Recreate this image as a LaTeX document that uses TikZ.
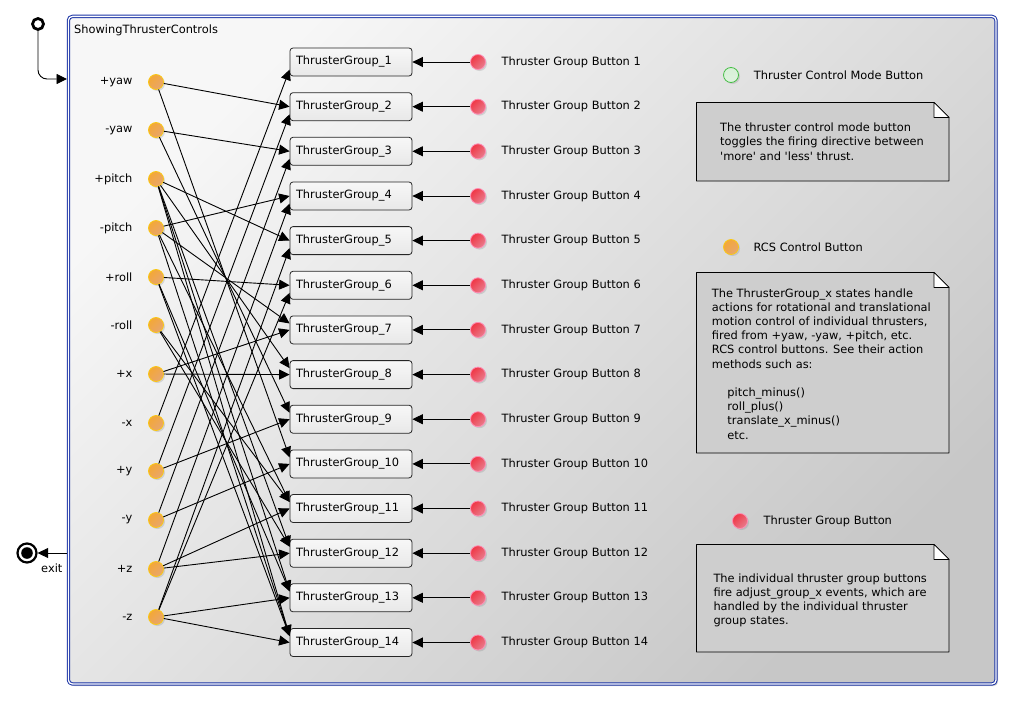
\documentclass[tikz,border=0pt]{standalone}
\usepackage{fontspec}
\setmainfont{DejaVu Sans}
\usetikzlibrary{arrows.meta,calc,positioning,shadows}

\definecolor{stateblue}{RGB}{25,50,165}
\definecolor{rcsfill}{RGB}{243,168,55}
\definecolor{rcsdark}{RGB}{232,165,110}
\definecolor{rcsline}{RGB}{250,200,20}
\definecolor{btnfill}{RGB}{240,55,70}
\definecolor{btndark}{RGB}{232,125,140}
\definecolor{btnline}{RGB}{255,140,180}
\definecolor{modefill}{RGB}{215,240,215}
\definecolor{modeline}{RGB}{70,190,70}
\definecolor{notegray}{RGB}{206,206,206}

\newcommand{\notebox}[4]{%
  \filldraw[notestyle] (#1,#2) -- (#3-15,#2) -- (#3,#2+15) -- (#3,#4) -- (#1,#4) -- cycle;
  \filldraw[fill=white,line width=0.7pt] (#3-15,#2) -- (#3-15,#2+15) -- (#3,#2+15) -- cycle;}

\begin{document}
\begin{tikzpicture}[x=1pt,y=-1pt,line join=round,
    every node/.style={font=\fontsize{11.4}{14.2}\selectfont}]
  \tikzset{statebox/.style={draw=stateblue,line width=1pt,double=white,double distance=1.3pt,
      rounded corners=4pt,minimum width=927.6pt,minimum height=667.6pt,inner sep=0pt,
      top color=black!3,bottom color=black!22,shading angle=45,
      drop shadow={shadow xshift=2pt,shadow yshift=-2pt,opacity=.35}},
    rcs/.style={circle,draw=rcsline,line width=0.8pt,top color=rcsfill,bottom color=rcsdark,
      shading angle=45,minimum size=15pt,inner sep=0pt,
      drop shadow={shadow xshift=1.5pt,shadow yshift=-1.5pt,opacity=.25}},
    tgbtn/.style={rcs,draw=btnline,top color=btnfill,bottom color=btndark,shading angle=45},
    modebtn/.style={rcs,draw=modeline,top color=modefill,bottom color=modefill!80!white},
    tgbox/.style={rectangle,rounded corners=3pt,draw=black!85,line width=0.8pt,
      top color=black!3,bottom color=black!9,
      minimum height=28pt,text width=110pt,inner xsep=6pt,align=left},
    initst/.style={circle,draw=black,line width=2.8pt,fill=white,minimum size=11pt,inner sep=0pt},
    finalst/.style={circle,draw=black,line width=2.2pt,fill=white,minimum size=19pt,inner sep=0pt,
      path picture={\fill[black] (path picture bounding box.center) circle (5.8pt);}},
    trans/.style={-{Triangle[length=10.5pt,width=10pt]},line width=0.9pt},
    lbl/.style={inner sep=0pt},
    notestyle/.style={fill=notegray,draw=black,line width=0.8pt}}

  \useasboundingbox (0,0) rectangle (1014,701);

  \node[statebox] (showing) at (532.2,350.2) {};
  \node[lbl,anchor=west] (title) at (74,30) {ShowingThrusterControls};

  \node[initst] (init) at (38,24) {};
  \coordinate (entry) at (67,79);
  \draw[trans,rounded corners=9pt] (init) |- (entry);

  \node[finalst] (exit) at (27,553) {};
  \node[lbl,anchor=west] (exitlbl) at (41,568) {exit};
  \coordinate (exitsrc) at (67,553);
  \draw[trans] (exitsrc) -- (exit);

  \node[rcs] (yawp) at (156,82) {};
  \node[rcs] (yawm) at (156,130) {};
  \node[rcs] (pitchp) at (156,179) {};
  \node[rcs] (pitchm) at (156,228) {};
  \node[rcs] (rollp) at (156,277) {};
  \node[rcs] (rollm) at (156,325) {};
  \node[rcs] (xp) at (156,374) {};
  \node[rcs] (xm) at (156,423) {};
  \node[rcs] (yp) at (156,471) {};
  \node[rcs] (ym) at (156,520) {};
  \node[rcs] (zp) at (156,569) {};
  \node[rcs] (zm) at (156,617) {};
  \node[lbl,left=15.5pt of yawp] (yawplbl) {+yaw};
  \node[lbl,left=15.5pt of yawm] (yawmlbl) {-yaw};
  \node[lbl,left=15.5pt of pitchp] (pitchplbl) {+pitch};
  \node[lbl,left=15.5pt of pitchm] (pitchmlbl) {-pitch};
  \node[lbl,left=15.5pt of rollp] (rollplbl) {+roll};
  \node[lbl,left=15.5pt of rollm] (rollmlbl) {-roll};
  \node[lbl,left=15.5pt of xp] (xplbl) {+x};
  \node[lbl,left=15.5pt of xm] (xmlbl) {-x};
  \node[lbl,left=15.5pt of yp] (yplbl) {+y};
  \node[lbl,left=15.5pt of ym] (ymlbl) {-y};
  \node[lbl,left=15.5pt of zp] (zplbl) {+z};
  \node[lbl,left=15.5pt of zm] (zmlbl) {-z};

  \node[tgbox] (tg1) at (351,62) {ThrusterGroup\_1};
  \node[tgbox] (tg2) at (351,106.7) {ThrusterGroup\_2};
  \node[tgbox] (tg3) at (351,151.3) {ThrusterGroup\_3};
  \node[tgbox] (tg4) at (351,196) {ThrusterGroup\_4};
  \node[tgbox] (tg5) at (351,240.6) {ThrusterGroup\_5};
  \node[tgbox] (tg6) at (351,285.3) {ThrusterGroup\_6};
  \node[tgbox] (tg7) at (351,329.9) {ThrusterGroup\_7};
  \node[tgbox] (tg8) at (351,374.6) {ThrusterGroup\_8};
  \node[tgbox] (tg9) at (351,419.2) {ThrusterGroup\_9};
  \node[tgbox] (tg10) at (351,463.9) {ThrusterGroup\_10};
  \node[tgbox] (tg11) at (351,508.5) {ThrusterGroup\_11};
  \node[tgbox] (tg12) at (351,553.2) {ThrusterGroup\_12};
  \node[tgbox] (tg13) at (351,597.8) {ThrusterGroup\_13};
  \node[tgbox] (tg14) at (351,642.5) {ThrusterGroup\_14};

  \node[tgbtn] (btn1) at (478,62) {};
  \node[tgbtn] (btn2) at (478,106.7) {};
  \node[tgbtn] (btn3) at (478,151.3) {};
  \node[tgbtn] (btn4) at (478,196) {};
  \node[tgbtn] (btn5) at (478,240.6) {};
  \node[tgbtn] (btn6) at (478,285.3) {};
  \node[tgbtn] (btn7) at (478,329.9) {};
  \node[tgbtn] (btn8) at (478,374.6) {};
  \node[tgbtn] (btn9) at (478,419.2) {};
  \node[tgbtn] (btn10) at (478,463.9) {};
  \node[tgbtn] (btn11) at (478,508.5) {};
  \node[tgbtn] (btn12) at (478,553.2) {};
  \node[tgbtn] (btn13) at (478,597.8) {};
  \node[tgbtn] (btn14) at (478,642.5) {};
  \node[lbl,right=15.5pt of btn1] (btn1lbl) {Thruster Group Button 1};
  \node[lbl,right=15.5pt of btn2] (btn2lbl) {Thruster Group Button 2};
  \node[lbl,right=15.5pt of btn3] (btn3lbl) {Thruster Group Button 3};
  \node[lbl,right=15.5pt of btn4] (btn4lbl) {Thruster Group Button 4};
  \node[lbl,right=15.5pt of btn5] (btn5lbl) {Thruster Group Button 5};
  \node[lbl,right=15.5pt of btn6] (btn6lbl) {Thruster Group Button 6};
  \node[lbl,right=15.5pt of btn7] (btn7lbl) {Thruster Group Button 7};
  \node[lbl,right=15.5pt of btn8] (btn8lbl) {Thruster Group Button 8};
  \node[lbl,right=15.5pt of btn9] (btn9lbl) {Thruster Group Button 9};
  \node[lbl,right=15.5pt of btn10] (btn10lbl) {Thruster Group Button 10};
  \node[lbl,right=15.5pt of btn11] (btn11lbl) {Thruster Group Button 11};
  \node[lbl,right=15.5pt of btn12] (btn12lbl) {Thruster Group Button 12};
  \node[lbl,right=15.5pt of btn13] (btn13lbl) {Thruster Group Button 13};
  \node[lbl,right=15.5pt of btn14] (btn14lbl) {Thruster Group Button 14};
  \draw[trans] (btn1) -- (tg1);
  \draw[trans] (btn2) -- (tg2);
  \draw[trans] (btn3) -- (tg3);
  \draw[trans] (btn4) -- (tg4);
  \draw[trans] (btn5) -- (tg5);
  \draw[trans] (btn6) -- (tg6);
  \draw[trans] (btn7) -- (tg7);
  \draw[trans] (btn8) -- (tg8);
  \draw[trans] (btn9) -- (tg9);
  \draw[trans] (btn10) -- (tg10);
  \draw[trans] (btn11) -- (tg11);
  \draw[trans] (btn12) -- (tg12);
  \draw[trans] (btn13) -- (tg13);
  \draw[trans] (btn14) -- (tg14);

  \draw[trans] (yawp) -- (tg2.west);
  \draw[trans] (yawp) -- (tg10.174);
  \draw[trans] (yawm) -- (tg3.west);
  \draw[trans] (yawm) -- (tg9.174);
  \draw[trans] (pitchp) -- (tg5.west);
  \draw[trans] (pitchp) -- (tg8.174);
  \draw[trans] (pitchp) -- (tg12.174);
  \draw[trans] (pitchp) -- (tg13.174);
  \draw[trans] (pitchp) -- (tg14.174);
  \draw[trans] (pitchm) -- (tg4.west);
  \draw[trans] (pitchm) -- (tg7.174);
  \draw[trans] (pitchm) -- (tg11.174);
  \draw[trans] (pitchm) -- (tg14.174);
  \draw[trans] (rollp) -- (tg6.west);
  \draw[trans] (rollp) -- (tg13.174);
  \draw[trans] (rollp) -- (tg14.174);
  \draw[trans] (rollm) -- (tg11.174);
  \draw[trans] (rollm) -- (tg12.174);
  \draw[trans] (xp) -- (tg7.west);
  \draw[trans] (xp) -- (tg8.west);
  \draw[trans] (xm) -- (tg1.187);
  \draw[trans] (yp) -- (tg2.187);
  \draw[trans] (yp) -- (tg9.west);
  \draw[trans] (ym) -- (tg3.187);
  \draw[trans] (ym) -- (tg10.west);
  \draw[trans] (zp) -- (tg4.187);
  \draw[trans] (zp) -- (tg11.west);
  \draw[trans] (zp) -- (tg12.west);
  \draw[trans] (zm) -- (tg5.187);
  \draw[trans] (zm) -- (tg6.187);
  \draw[trans] (zm) -- (tg13.west);
  \draw[trans] (zm) -- (tg14.west);

  % legend and notes
  \node[modebtn] (modeleg) at (731,75) {};
  \node[lbl,right=14.8pt of modeleg] (modeleglbl) {Thruster Control Mode Button};
  \notebox{696.5}{102.5}{949}{181}
  \node[lbl,anchor=north west,align=left] (modenote) at (720,122.8)
    {The thruster control mode button\\toggles the firing directive between\\\textquotesingle more\textquotesingle{} and \textquotesingle less\textquotesingle{} thrust.};

  \node[rcs] (rcsleg) at (731,247) {};
  \node[lbl,right=14.5pt of rcsleg] (rcsleglbl) {RCS Control Button};
  \notebox{696.5}{272.5}{949}{453}
  \node[lbl,anchor=north west,align=left] (rcsnote) at (711.7,288.2)
    {The ThrusterGroup\_x states handle\\actions for rotational and translational\\motion control of individual thrusters,\\fired from +yaw, -yaw, +pitch, etc.\\RCS control buttons. See their action\\methods such as:\\[14.2pt]
    \hspace*{15.5pt}pitch\_minus()\\\hspace*{15.5pt}roll\_plus()\\\hspace*{15.5pt}translate\_x\_minus()\\\hspace*{15.5pt}etc.};

  \node[tgbtn] (btnleg) at (740,521) {};
  \node[lbl,right=15.5pt of btnleg] (btnleglbl) {Thruster Group Button};
  \notebox{696.5}{544.5}{949}{652}
  \node[lbl,anchor=north west,align=left] (btnnote) at (713.3,573.2)
    {The individual thruster group buttons\\fire adjust\_group\_x events, which are\\handled by the individual thruster\\group states.};
\end{tikzpicture}
\end{document}
